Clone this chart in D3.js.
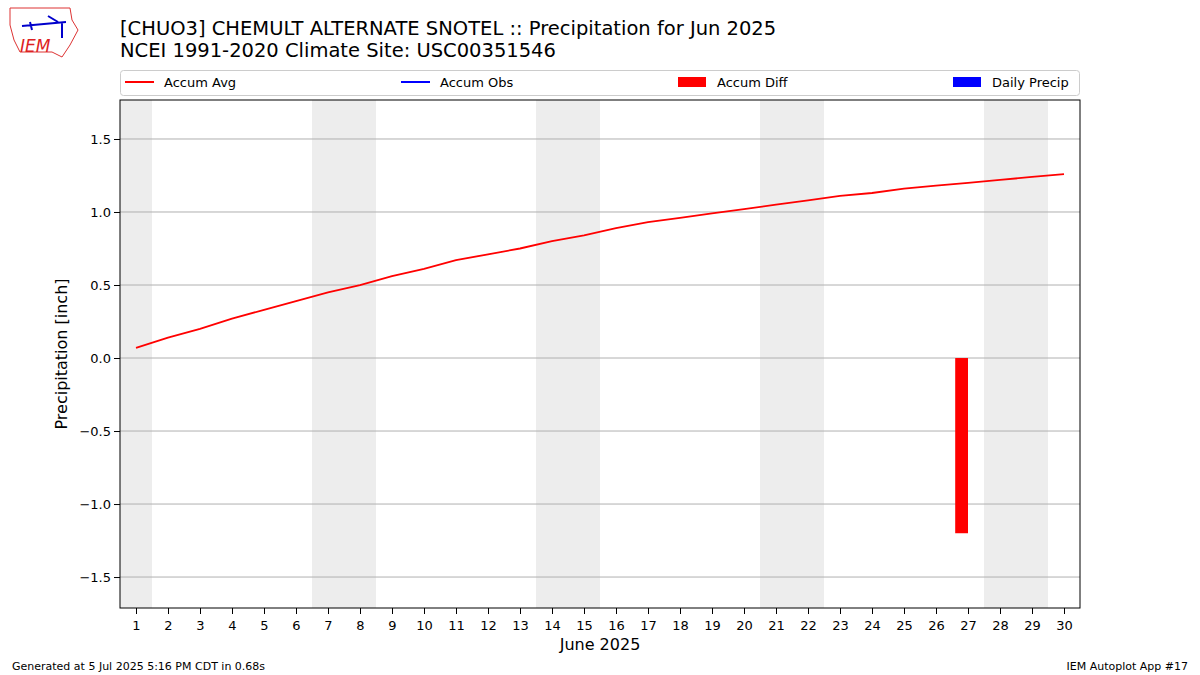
<!DOCTYPE html>
<html><head><meta charset="utf-8">
<script src="https://cdn.jsdelivr.net/npm/d3@7"></script>
<style>body{margin:0;background:#fff}text{font-family:"DejaVu Sans",sans-serif}</style>
</head><body>
<svg id="c" width="1200" height="675"></svg>
<script>
const days = d3.range(1,31);
const accumAvg = [0.07,0.14,0.20,0.27,0.33,0.39,0.45,0.50,0.56,0.61,0.67,0.71,0.75,0.80,0.84,0.89,0.93,0.96,0.99,1.02,1.05,1.08,1.11,1.13,1.16,1.18,1.20,1.22,1.24,1.26];
const diffDays = [27];
const diffVals = [-1.20];
const weekends = [[0.5,1.5],[6.5,8.5],[13.5,15.5],[20.5,22.5],[27.5,29.5]];
const yTicks = [-1.5,-1.0,-0.5,0.0,0.5,1.0,1.5];
const legendItems = [["Accum Avg","line","red"],["Accum Obs","line","blue"],["Accum Diff","bar","red"],["Daily Precip","bar","blue"]];

const svg = d3.select("#c");
const L=120,R=1080,T=100,B=608;
const x = d3.scaleLinear().domain([0.5,30.5]).range([L,R]);
const y = d3.scaleLinear().domain([-1.712,1.767]).range([B,T]);

svg.append("text").attr("x",120).attr("y",35).attr("font-size",19.5).text("[CHUO3] CHEMULT ALTERNATE SNOTEL :: Precipitation for Jun 2025");
svg.append("text").attr("x",120).attr("y",57).attr("font-size",19.5).text("NCEI 1991-2020 Climate Site: USC00351546");

// logo
const lg = svg.append("g");
lg.append("path").attr("d","M10,8 L70,8 L72,20 L78,30 L70,45 L62,57 L52,52 L20,52 L14,40 L10,25 Z").attr("fill","none").attr("stroke","#d33").attr("stroke-width",1);
lg.append("text").attr("x",20).attr("y",52).attr("font-size",17).attr("font-style","italic").attr("font-family","Liberation Serif").attr("fill","#d22").text("IEM");
lg.append("path").attr("d","M22,26 L66,22 M48,16 L58,22 M30,22 L32,30 M62,22 L62,38").attr("stroke","#00c").attr("stroke-width",2).attr("fill","none");

svg.selectAll(".wk").data(weekends).join("rect").attr("x",d=>x(d[0])).attr("width",d=>x(d[1])-x(d[0])).attr("y",T).attr("height",B-T).attr("fill","#ededed");

svg.selectAll(".gl").data(yTicks).join("line").attr("x1",L).attr("x2",R).attr("y1",d=>y(d)).attr("y2",d=>y(d)).attr("stroke","#b0b0b0").attr("stroke-width",1);

svg.selectAll(".bar").data(diffDays).join("rect").attr("x",(d)=>x(d-0.4)).attr("width",x(1.4)-x(1)).attr("y",(d,i)=>y(Math.max(0,diffVals[i]))).attr("height",(d,i)=>Math.abs(y(diffVals[i])-y(0))).attr("fill","red");

svg.append("path").datum(accumAvg).attr("d",d3.line().x((d,i)=>x(days[i])).y(d=>y(d))).attr("fill","none").attr("stroke","red").attr("stroke-width",1.8);

svg.append("rect").attr("x",L).attr("y",T).attr("width",R-L).attr("height",B-T).attr("fill","none").attr("stroke","#000");

const xa = svg.append("g").attr("transform",`translate(0,${B})`).call(d3.axisBottom(x).tickValues(days).tickFormat(d3.format("d")).tickSizeOuter(0));
const ya = svg.append("g").attr("transform",`translate(${L},0)`).call(d3.axisLeft(y).tickValues(yTicks).tickFormat(d=>d3.format(".1f")(d).replace("-","\u2212")).tickSizeOuter(0));
[xa,ya].forEach(a=>{a.select(".domain").remove();a.selectAll("text").attr("font-size",13).attr("font-family","DejaVu Sans").attr("fill","#000");});
xa.selectAll("text").attr("dy","1.0em");

svg.append("text").attr("x",600).attr("y",650).attr("text-anchor","middle").attr("font-size",16).text("June 2025");
svg.append("text").attr("transform","translate(67,354) rotate(-90)").attr("text-anchor","middle").attr("font-size",16).text("Precipitation [inch]");

// legend
svg.append("rect").attr("x",120.5).attr("y",70.5).attr("width",959).attr("height",25).attr("fill","#fff").attr("stroke","#ccc").attr("rx",3);
const lx=[125,401,678,953];
legendItems.forEach((it,i)=>{
  const g=svg.append("g").attr("transform",`translate(${lx[i]},82)`);
  if(it[1]=="line") g.append("line").attr("x1",0).attr("x2",29).attr("stroke",it[2]).attr("stroke-width",2);
  else g.append("rect").attr("x",0).attr("y",-5).attr("width",28).attr("height",10).attr("fill",it[2]);
  g.append("text").attr("x",39).attr("y",5).attr("font-size",13).text(it[0]);
});

svg.append("text").attr("x",12).attr("y",670).attr("font-size",11).text("Generated at 5 Jul 2025 5:16 PM CDT in 0.68s");
svg.append("text").attr("x",1188).attr("y",670).attr("text-anchor","end").attr("font-size",11).text("IEM Autoplot App #17");
</script></body></html>
